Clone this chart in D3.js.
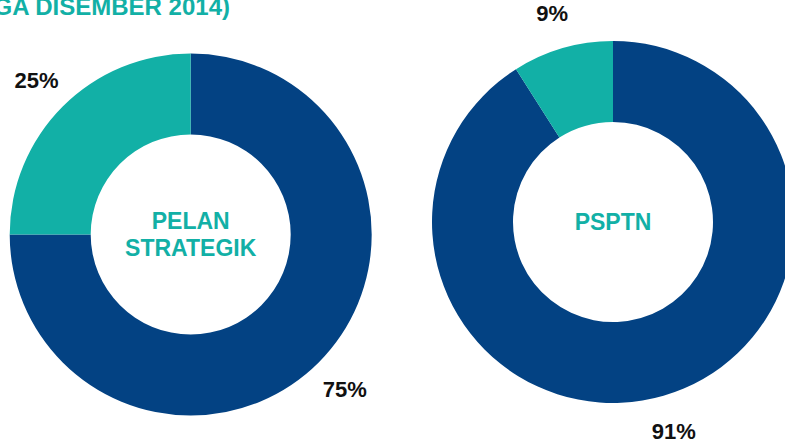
<!DOCTYPE html>
<html>
<head>
<meta charset="utf-8">
<script src="https://cdn.jsdelivr.net/npm/d3@7"></script>
<style>
	html, body { margin: 0; padding: 0; background: #fff; overflow: hidden; }
	svg { display: block; font-family: "Liberation Sans", Arial, Helvetica, sans-serif; }
</style>
</head>
<body>
<svg id="chart" width="785" height="443"></svg>
<script>
// chart data
var charts = ["PELAN STRATEGIK", "PSPTN"];
var segments = ["Dilaksanakan", "Belum"];
var pelanValues = [75, 25];
var psptnValues = [91, 9];
var pctLabels = [["75%", "25%"], ["91%", "9%"]];
var centerLines = [["PELAN", "STRATEGIK"], ["PSPTN"]];
var title = "(SEHINGGA DISEMBER 2014)";

var teal = "#12b0a6";
var navy = "#034283";

var svg = d3.select("#chart");

svg.append("text")
	.attr("x", 230)
	.attr("y", 15)
	.attr("text-anchor", "end")
	.attr("font-size", 24)
	.attr("font-weight", "bold")
	.attr("fill", teal)
	.text(title);

var color = d3.scaleOrdinal()
	.domain(segments)
	.range([navy, teal]);

var pie = d3.pie().sort(null);
var arc = d3.arc().innerRadius(100).outerRadius(181);
var labelArc = d3.arc().innerRadius(218).outerRadius(218);

var centers = [[190.7, 234.5], [613, 222]];
var values = [pelanValues, psptnValues];

charts.forEach(function (name, ci) {
	var g = svg.append("g")
		.attr("transform", "translate(" + centers[ci][0] + "," + centers[ci][1] + ")");

	var slices = pie(values[ci]);

	g.selectAll("path")
		.data(slices)
		.enter().append("path")
		.attr("d", arc)
		.attr("fill", function (d, i) { return color(segments[i]); });

	g.selectAll("text.pct")
		.data(slices)
		.enter().append("text")
		.attr("class", "pct")
		.attr("transform", function (d) { return "translate(" + labelArc.centroid(d) + ")"; })
		.attr("text-anchor", "middle")
		.attr("dy", "0.36em")
		.attr("font-size", 22)
		.attr("font-weight", "bold")
		.attr("fill", "#111")
		.text(function (d, i) { return pctLabels[ci][i]; });

	var lines = centerLines[ci];
	var lh = 27.4;
	g.selectAll("text.center")
		.data(lines)
		.enter().append("text")
		.attr("class", "center")
		.attr("text-anchor", "middle")
		.attr("x", 0)
		.attr("y", function (d, i) { return (i - (lines.length - 1) / 2) * lh + 8; })
		.attr("font-size", 23)
		.attr("font-weight", "bold")
		.attr("fill", teal)
		.text(function (d) { return d; });
});
</script>
</body>
</html>
